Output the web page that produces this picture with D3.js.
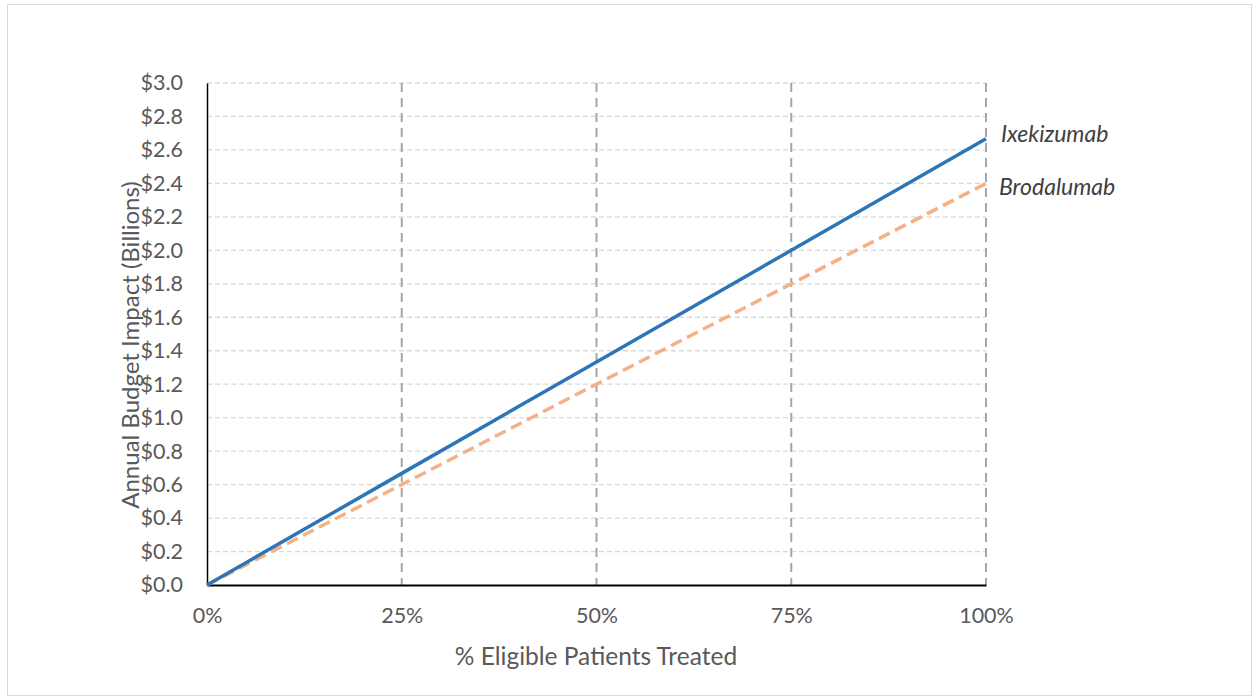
<!DOCTYPE html>
<html><head><meta charset="utf-8">
<script src="https://cdn.jsdelivr.net/npm/d3@7"></script>
<style>body{margin:0;background:#fff;font-family:Lato,sans-serif;}</style>
</head><body><svg id="c" width="1253" height="698"></svg>
<script>
const xValues = [0, 0.25, 0.5, 0.75, 1.0];
const ixekizumab = [0, 0.667, 1.333, 2.0, 2.667];
const brodalumab = [0, 0.6, 1.2, 1.8, 2.4];
const yTicks = [0,0.2,0.4,0.6,0.8,1.0,1.2,1.4,1.6,1.8,2.0,2.2,2.4,2.6,2.8,3.0];
const xTicks = [0, 0.25, 0.5, 0.75, 1.0];
const seriesNames = ["Ixekizumab", "Brodalumab"];

const FONT = "Lato, sans-serif";
const svg = d3.select("#c");
svg.append("rect").attr("x",7.5).attr("y",4.5).attr("width",1244).attr("height",691)
  .attr("fill","#fff").attr("stroke","#d9d9d9").attr("stroke-width",1);

const x = d3.scaleLinear().domain([0,1]).range([207,986]);
const y = d3.scaleLinear().domain([0,3]).range([585,83]);

// horizontal grid
svg.append("g").selectAll("line").data(yTicks.filter(d=>d>0)).join("line")
  .attr("x1",x(0)).attr("x2",x(1)).attr("y1",d=>y(d)).attr("y2",d=>y(d))
  .attr("stroke","#d9d9d9").attr("stroke-width",1.3).attr("stroke-dasharray","5,3");
// vertical grid
svg.append("g").selectAll("line").data(xTicks.filter(d=>d>0)).join("line")
  .attr("x1",d=>x(d)).attr("x2",d=>x(d)).attr("y1",y(3)).attr("y2",y(0))
  .attr("stroke","#a6a6a6").attr("stroke-width",2).attr("stroke-dasharray","9,6");

// axes
const yAxis = d3.axisLeft(y).tickValues(yTicks).tickSize(0).tickPadding(24)
  .tickFormat(d=>"$"+d3.format(".1f")(d));
const gy = svg.append("g").attr("transform",`translate(${x(0)},0)`).call(yAxis);
gy.select(".domain").attr("stroke","#000").attr("stroke-width",1.5);
gy.selectAll("text").attr("fill","#595959").attr("font-size",21.5).attr("font-family",FONT);

const xAxis = d3.axisBottom(x).tickValues(xTicks).tickSize(0).tickPadding(23)
  .tickFormat(d3.format(".0%"));
const gx = svg.append("g").attr("transform",`translate(0,${y(0)})`).call(xAxis);
gx.select(".domain").attr("stroke","#000").attr("stroke-width",2);
gx.selectAll("text").attr("fill","#595959").attr("font-size",21.5).attr("font-family",FONT);

// lines
const line = d3.line().x((d,i)=>x(xValues[i])).y(d=>y(d));
svg.append("path").datum(brodalumab).attr("d",line).attr("fill","none")
  .attr("stroke","#f4b183").attr("stroke-width",3.5).attr("stroke-dasharray","12,6");
svg.append("path").datum(ixekizumab).attr("d",line).attr("fill","none")
  .attr("stroke","#2e75b6").attr("stroke-width",3.5);

// series labels
svg.append("text").attr("x",1001).attr("y",142).text(seriesNames[0])
  .attr("font-family",FONT).attr("font-style","italic").attr("font-size",23).attr("fill","#404040");
svg.append("text").attr("x",999).attr("y",195).text(seriesNames[1])
  .attr("font-family",FONT).attr("font-style","italic").attr("font-size",23).attr("fill","#404040");

// axis titles
svg.append("text").attr("transform",`translate(139,345) rotate(-90)`)
  .attr("text-anchor","middle").attr("font-family",FONT).attr("font-size",24).attr("fill","#595959")
  .text("Annual Budget Impact (Billions)");
svg.append("text").attr("x",596).attr("y",665).attr("text-anchor","middle")
  .attr("font-family",FONT).attr("font-size",24.5).attr("fill","#595959").text("% Eligible Patients Treated");
</script></body></html>
